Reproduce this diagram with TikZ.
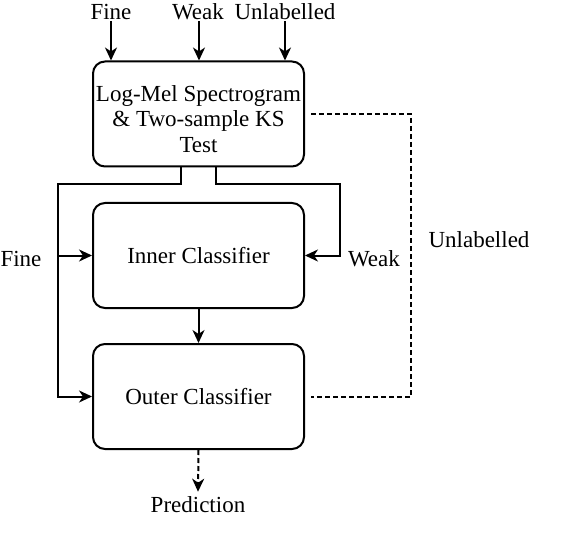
\documentclass[tikz,border=0pt]{standalone}
\usepackage{fontspec}
\setmainfont{Liberation Serif}
\usetikzlibrary{positioning,calc,arrows.meta}
\tikzset{
  box/.style  ={draw, rounded corners=12pt, line width=2pt, minimum width=211pt,
                minimum height=105pt, align=center, inner sep=2pt,
                font=\fontsize{23}{25.5}\selectfont},
  lbl/.style  ={font=\fontsize{23}{25.5}\selectfont, inner sep=1pt},
  flow/.style ={-{Stealth[length=13pt,width=12pt,inset=4pt]}, line width=2pt},
  dashline/.style ={line width=2pt, dash pattern=on 5pt off 3pt},
}
\begin{document}
\begin{tikzpicture}[x=1pt,y=-1pt]
  \useasboundingbox (0,0) rectangle (562,548);
  % stages
  \node[box] (LM) at (198.5,114) {\rule{0pt}{6pt}\\[-6pt]
      Log-Mel Spectrogram\\\& Two-sample KS\\Test};
  \node[box] (IC) at (198.5,255.5) {Inner Classifier};
  \node[box] (OC) at (198.5,396.5) {Outer Classifier};
  % inputs
  \node[lbl] (fineIn) at (111,12) {Fine};
  \node[lbl] (weakIn) at (198,12) {Weak};
  \node[lbl] (unlIn)  at (285,12) {Unlabelled};
  \draw[flow] (fineIn.south) -- (fineIn.south |- LM.north);
  \draw[flow] ([xshift=1pt]weakIn.south) -- ([xshift=1pt]weakIn.south |- LM.north);
  \draw[flow] (unlIn.south) -- (unlIn.south |- LM.north);
  % fine and weak branches
  \coordinate (turnL) at (58,184);
  \coordinate (turnR) at (340,184);
  \draw[flow] ([xshift=-17.5pt]LM.south) |- (turnL) |- (OC.west);
  \draw[flow] (turnL |- IC.west) -- (IC.west);
  \draw[flow] ([xshift=17.5pt]LM.south) |- (turnR) |- (IC.east);
  \node[lbl] (fineLbl) at (21,259) {Fine};
  \node[lbl] (weakLbl) at (374,259) {Weak};
  \draw[flow] (IC.south) -- (OC.north);
  % unlabelled path
  \coordinate (turnU) at (411,114);
  \draw[dashline] ([xshift=6pt]LM.east) -- (turnU) |- ([xshift=6pt]OC.east);
  \node[lbl] (unlLbl) at (479,240) {Unlabelled};
  % output
  \node[lbl, inner sep=5pt] (pred) at (198,505) {Prediction};
  \draw[dashline, -{Stealth[length=13pt,width=12pt,inset=4pt]}] (OC.south) -- (pred.north);
\end{tikzpicture}
\end{document}
